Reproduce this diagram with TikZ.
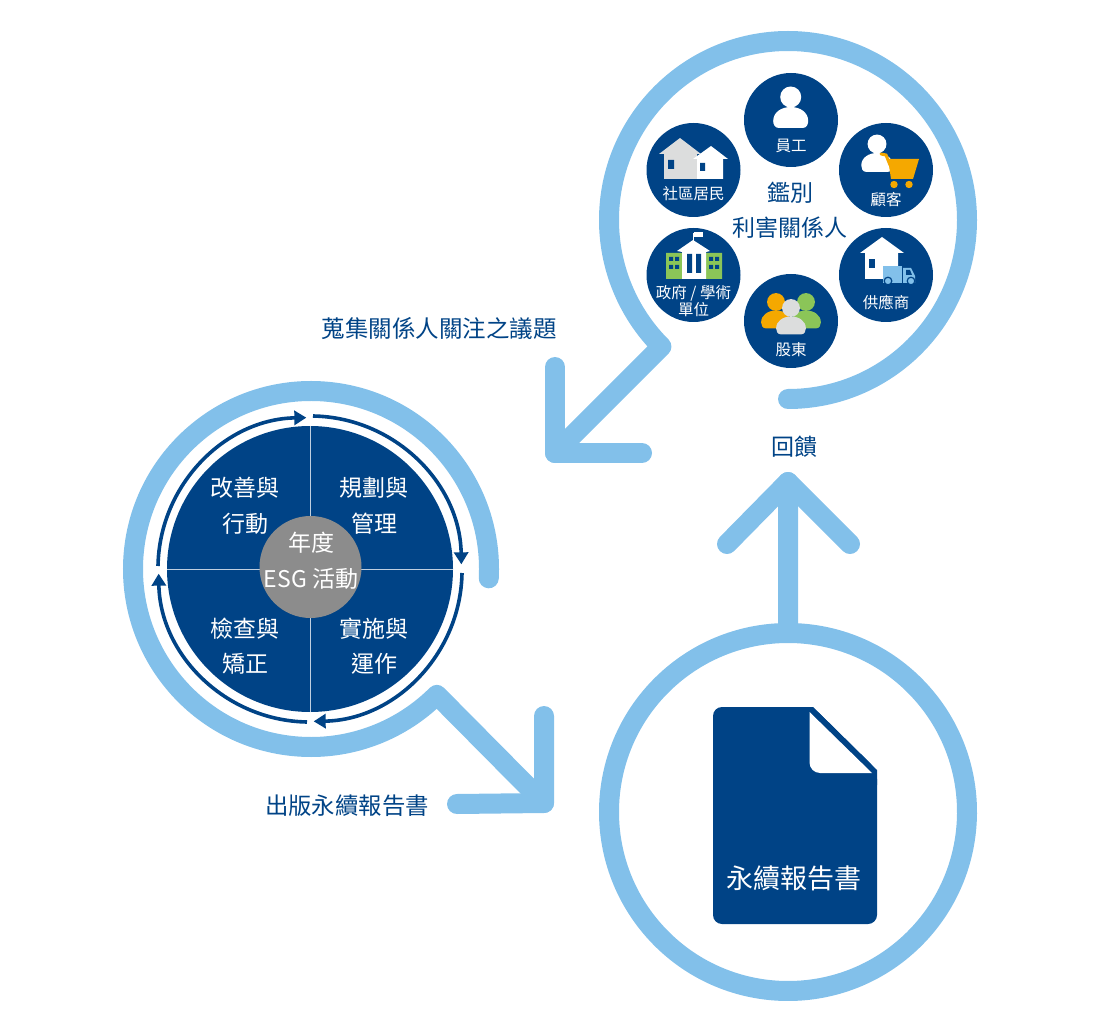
\documentclass[tikz,border=0pt]{standalone}
\usepackage{fontspec}
\setmainfont{Noto Sans CJK TC}
\usetikzlibrary{arrows.meta}
\definecolor{navy}{HTML}{004386}
\definecolor{sky}{HTML}{82C0EA}
\definecolor{paleg}{HTML}{DCDDDD}
\definecolor{cart}{HTML}{F5A800}
\definecolor{leaf}{HTML}{8BC558}
\definecolor{hub}{HTML}{8C8C8C}
\tikzset{
  flow/.style={draw=sky,line width=20pt,line cap=round,line join=round},
  cycle/.style={draw=navy,line width=3.6pt,-{Triangle[length=12pt,width=14pt]}},
  stake/.style={circle,fill=navy,minimum size=94pt,inner sep=0pt},
  small/.style={text=white,font=\fontsize{15.5}{17}\selectfont,align=center,inner sep=0pt},
  quad/.style={text=white,font=\fontsize{23}{35.5}\selectfont,align=center,inner sep=0pt},
  label/.style={text=navy,font=\fontsize{23}{35}\selectfont,align=center,inner sep=0pt},
}
% A figure: head and shoulders, drawn around the head centre
\newcommand{\figureicon}[4]{%
  \begin{scope}[shift={(#1,#2)},scale=#3]
    \fill[#4] (0,0) circle[radius=10.5];
    \fill[#4] (-12,31) .. controls (-16,31) and (-17.5,27) .. (-17.5,24)
      .. controls (-17.5,15) and (-9,10) .. (0,10)
      .. controls (9,10) and (17.5,15) .. (17.5,24)
      .. controls (17.5,27) and (16,31) .. (12,31) -- cycle;
  \end{scope}}
\begin{document}
\begin{tikzpicture}[x=1pt,y=-1pt]
\useasboundingbox (0,0) rectangle (1109,1024);

% Large flow rings with their arrow shafts and heads
\coordinate (topc) at (788,220);
\coordinate (leftc) at (311,569);
\coordinate (botc) at (788,812);
\coordinate (tipa) at (555,453);
\coordinate (tipb) at (544,803);
\coordinate (tipc) at (788,482);
\draw[flow] (topc) ++(-90:179pt) arc[start angle=-90,end angle=225,radius=179pt] -- (tipa);
\draw[flow] (555,367) -- (tipa) -- (642,453);
\draw[flow] (leftc) ++(-3:178pt) arc[start angle=-3,end angle=315,radius=178pt] -- (tipb);
\draw[flow] (544,716) -- (tipb) -- (457,804);
\draw[flow] (botc) ++(133:179pt) arc[start angle=133,end angle=-270,radius=179pt] -- (tipc);
\draw[flow] (727,544) -- (tipc) -- (850,544);

% Annual cycle wheel
\node[circle,fill=navy,minimum size=286pt,inner sep=0pt] (wheel) at (310,569) {};
\draw[white,line width=0.9pt,opacity=.75] (310,426) -- (310,712) (167,569) -- (453,569);
\node[circle,fill=hub,minimum size=102pt,inner sep=0pt] (core) at (310.5,567) {};
\draw[cycle] (313,416) arc[start angle=89,end angle=1,radius=151pt];
\draw[cycle] (462,573) arc[start angle=-1,end angle=-89,radius=151pt];
\draw[cycle] (307,722) arc[start angle=-91,end angle=-179,radius=151pt];
\draw[cycle] (158,566) arc[start angle=179,end angle=91,radius=151pt];
\node[quad] (plan) at (374,506) {規劃與\\管理};
\node[quad] (act) at (245,506) {改善與\\行動};
\node[quad] (check) at (245,646) {檢查與\\矯正};
\node[quad] (run) at (374,646) {實施與\\運作};
\node[quad] (hubt) at (311,561) {年度\\ESG 活動};

% Stakeholder discs
\node[stake] (staff) at (791,120) {};
\node[stake] (resident) at (693.5,170) {};
\node[stake] (client) at (886,170) {};
\node[stake] (gov) at (693.5,275) {};
\node[stake] (supplier) at (886,275) {};
\node[stake] (holder) at (791,321) {};

% Staff
\figureicon{790.7}{97}{1}{white}

% Residents: two houses
\fill[paleg] (680,138) -- (701,154) -- (697,154) -- (697,179) -- (664,179) -- (664,154) -- (659,154) -- cycle;
\fill[white] (711,146) -- (728,159) -- (723,159) -- (723,179) -- (697,179) -- (697,159) -- (693,159) -- cycle;
\fill[navy] (668,160) rectangle (674,169) (700,163) rectangle (705,171);

% Customer with a shopping cart
\figureicon{877}{144}{.9}{white}
\draw[cart,line width=3pt,line cap=round] (881,154) -- (886,155) -- (890,165);
\fill[cart] (888,159) -- (919,159) -- (913,179) -- (891,179) -- cycle;
\fill[cart] (894,184.5) circle[radius=3.7] (909,184.5) circle[radius=3.7];

% Government and academia: a columned hall
\fill[leaf] (666,253) rectangle (682,279) (706,253) rectangle (722,279);
\fill[navy] (669,257) rectangle (673,261) (675,257) rectangle (679,261)
            (669,265) rectangle (673,269) (675,265) rectangle (679,269)
            (709,257) rectangle (713,261) (715,257) rectangle (719,261)
            (709,265) rectangle (713,269) (715,265) rectangle (719,269);
\fill[white] (693,240) -- (710,251) -- (706,252) -- (706,279) -- (682,279) -- (682,252) -- (677,251) -- cycle;
\fill[navy] (687,254) rectangle (692,273) (696,254) rectangle (701,273);
\draw[white,line width=1pt] (693.5,233) -- (693.5,241);
\fill[white] (694,232) rectangle (703,237);

% Supplier: house and delivery truck
\fill[white] (882,237) -- (904,253) -- (898,253) -- (898,279) -- (865,279) -- (865,253) -- (860,253) -- cycle;
\fill[navy] (869,259) rectangle (875,268);
\fill[sky] (883,266) rectangle (902,283);
\fill[sky] (903,268) -- (911,268) -- (915,276) -- (915,283) -- (903,283) -- cycle;
\fill[navy] (906,270) -- (910,270) -- (912,275) -- (906,275) -- cycle;
\filldraw[fill=sky,draw=navy,line width=1.2pt] (888,281) circle[radius=3.8] (911,281) circle[radius=3.8];

% Shareholders: three figures
\figureicon{776}{302}{.85}{cart}
\figureicon{806}{302}{.85}{leaf}
\figureicon{791}{308}{.85}{paleg}

% Disc captions
\node[small] (t1) at (791,146) {員工};
\node[small] (t2) at (693.5,194) {社區居民};
\node[small] (t3) at (886,200) {顧客};
\node[small] (t4) at (693.5,301) {政府 / 學術\\單位};
\node[small] (t5) at (886,302) {供應商};
\node[small] (t6) at (791,350) {股東};

% Report document
\fill[navy,rounded corners=9pt] (713,707) -- (813,707) -- (877,770) -- (877,924) -- (713,924) -- cycle;
\fill[navy] (800,707) -- (813,707) -- (877,770) -- (877,785) -- (800,785) -- cycle;
\fill[white] (809.5,712) -- (872,773) -- (820,773) arc[start angle=-90,end angle=-180,radius=10.5pt] -- cycle;
\node[text=white,font=\fontsize{27}{30}\selectfont,inner sep=0pt] (report) at (794,878) {永續報告書};

% Process labels
\node[label] (centre) at (790,210) {鑑別\\利害關係人};
\node[label,font=\fontsize{23.5}{30}\selectfont] (gather) at (439,328) {蒐集關係人關注之議題};
\node[label] (feedback) at (794,447) {回饋};
\node[label,font=\fontsize{23.4}{30}\selectfont] (publish) at (347,806) {出版永續報告書};
\end{tikzpicture}
\end{document}
